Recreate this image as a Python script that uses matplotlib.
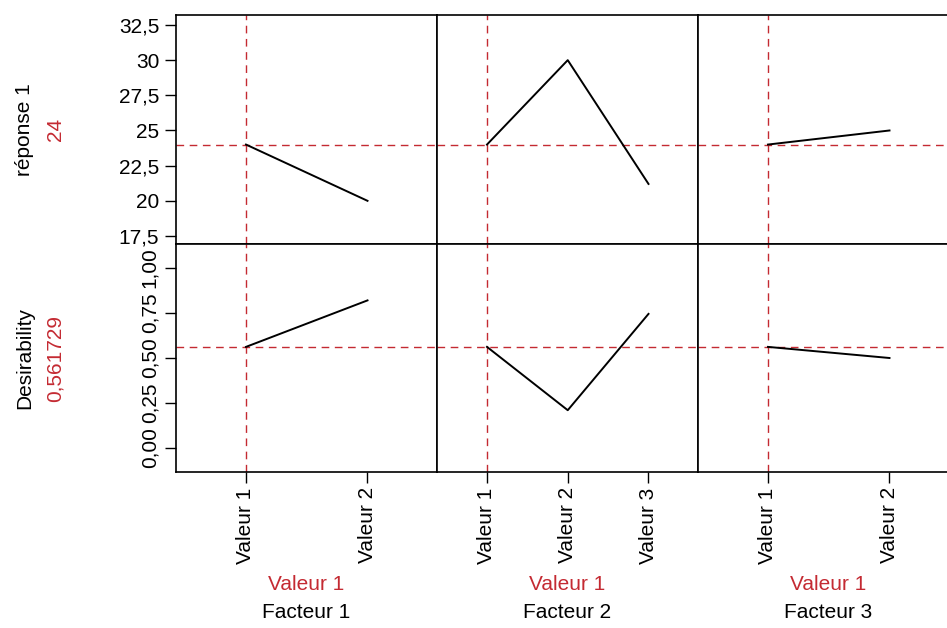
import matplotlib
matplotlib.use("Agg")
import matplotlib.pyplot as plt

# Optimisation plot data: two responses vs three factors
facteurs = ["Facteur 1", "Facteur 2", "Facteur 3"]
niveaux = [["Valeur 1", "Valeur 2"],
           ["Valeur 1", "Valeur 2", "Valeur 3"],
           ["Valeur 1", "Valeur 2"]]
reglage = ["Valeur 1", "Valeur 1", "Valeur 1"]

reponse1 = [[24, 20], [24, 30, 21.2], [24, 25]]
desirability = [[0.561729, 0.82], [0.561729, 0.21, 0.745], [0.561729, 0.50]]

reponse1_opt = 24
desirability_opt = 0.561729

rep_ticks = [17.5, 20, 22.5, 25, 27.5, 30, 32.5]
rep_ticklabels = ["17,5", "20", "22,5", "25", "27,5", "30", "32,5"]
des_ticks = [0.0, 0.25, 0.5, 0.75, 1.0]
des_ticklabels = ["0,00", "0,25", "0,50", "0,75", "1,00"]

RED = "#c42a32"
FONT = "Liberation Sans"
FS = 15

W, H = 947, 628
fig = plt.figure(figsize=(W / 100, H / 100), dpi=100)


def px_axes(x0, y0, x1, y1):
    return fig.add_axes([x0 / W, 1 - y1 / H, (x1 - x0) / W, (y1 - y0) / H])


col_edges = [176, 437, 698, 959]
row_edges = [15, 244, 472]
xlims = {2: (0.424, 2.572), 3: (0.381, 3.613)}

rows = [(reponse1, reponse1_opt, (16.93, 33.21)),
        (desirability, desirability_opt, (-0.1333, 1.1333))]

for r, (data, opt, ylim) in enumerate(rows):
    for c in range(3):
        ax = px_axes(col_edges[c], row_edges[r], col_edges[c + 1], row_edges[r + 1])
        n = len(niveaux[c])
        xs = list(range(1, n + 1))
        ax.plot(xs, data[c], color="black", lw=1.4, zorder=3)
        cur = niveaux[c].index(reglage[c]) + 1
        ax.axvline(cur, color=RED, lw=1.0, ls=(0, (5.5, 4)), zorder=2)
        ax.axhline(opt, color=RED, lw=1.0, ls=(0, (5.5, 4)), zorder=2)
        ax.set_xlim(*xlims[n])
        ax.set_ylim(*ylim)
        for s in ax.spines.values():
            s.set_linewidth(1.2)
            s.set_color("black")
        ax.tick_params(direction="out", length=8, width=1.0, color="black")
        if r == 1:
            ax.set_xticks(xs)
            ax.set_xticklabels(niveaux[c], rotation=90, fontsize=FS, family=FONT)
            ax.tick_params(axis="x", pad=3)
        else:
            ax.set_xticks([])
        if c == 0:
            if r == 0:
                ax.set_yticks(rep_ticks)
                ax.set_yticklabels(rep_ticklabels, fontsize=FS, family=FONT)
            else:
                ax.set_yticks(des_ticks)
                ax.set_yticklabels(des_ticklabels, fontsize=FS, family=FONT,
                                   rotation=90, va="center")
            ax.tick_params(axis="y", pad=4)
        else:
            ax.set_yticks([])

# Row labels with current predicted values
row_titles = [("réponse 1", "24"), ("Desirability", "0,561729")]
for r, (title, val) in enumerate(row_titles):
    yc = 1 - (row_edges[r] + row_edges[r + 1]) / 2 / H
    fig.text(25 / W, yc, title, rotation=90, ha="center", va="center",
             fontsize=FS, family=FONT, color="black")
    fig.text(55 / W, yc, val, rotation=90, ha="center", va="center",
             fontsize=FS, family=FONT, color=RED)

# Factor names and current settings below each column
for c in range(3):
    xc = (col_edges[c] + col_edges[c + 1]) / 2 / W
    fig.text(xc, 1 - 585 / H, reglage[c], ha="center", va="center",
             fontsize=FS, family=FONT, color=RED)
    fig.text(xc, 1 - 613 / H, facteurs[c], ha="center", va="center",
             fontsize=FS, family=FONT, color="black")

fig.savefig("out.png", dpi=100)
